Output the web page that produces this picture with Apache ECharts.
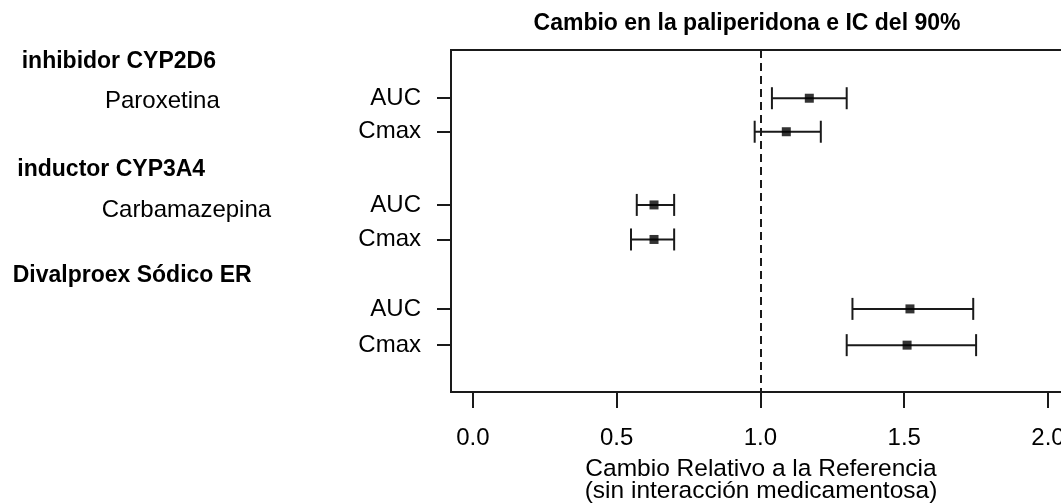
<!DOCTYPE html>
<html>
<head>
<meta charset="utf-8">
<script src="https://cdn.jsdelivr.net/npm/echarts@6/dist/echarts.min.js"></script>
<style>
html,body{margin:0;padding:0;background:#fff;}
#chart{width:1061px;height:504px;}
</style>
</head>
<body>
<div id="chart"></div>
<script>
// ---- data ----
const rowPos    = [14.1, 23.9, 45.3, 55.4, 75.7, 86.3];
const measures  = ['AUC', 'Cmax', 'AUC', 'Cmax', 'AUC', 'Cmax'];
const estimates = [1.17, 1.09, 0.63, 0.63, 1.52, 1.51];
const lower     = [1.04, 0.98, 0.57, 0.55, 1.32, 1.30];
const upper     = [1.30, 1.21, 0.70, 0.70, 1.74, 1.75];
const xTicks    = [0, 0.5, 1, 1.5, 2];
const groupLabels = ['inhibidor CYP2D6', 'inductor CYP3A4', 'Divalproex Sódico ER'];
const groupRows   = [3.3, 35.0, 65.9];
const drugLabels  = ['Paroxetina', 'Carbamazepina'];
const drugRows    = [15.1, 46.8];
const referenceValue = 1;
const titleText = 'Cambio en la paliperidona e IC del 90%';
const xName = 'Cambio Relativo a la Referencia\n(sin interacción medicamentosa)';

const FONT = '"Liberation Sans", Arial, Helvetica, sans-serif';
const INK = '#1a1a1a';

const chart = echarts.init(document.getElementById('chart'), null, {renderer: 'canvas'});

const ciData = rowPos.map((y, i) => [lower[i], upper[i], y]);
const ptData = rowPos.map((y, i) => [estimates[i], y]);

function labelFor(v) {
  let best = 0, d = Infinity;
  rowPos.forEach((p, i) => { const dd = Math.abs(p - v); if (dd < d) { d = dd; best = i; } });
  return measures[best];
}

chart.setOption({
  animation: false,
  backgroundColor: '#fff',
  grid: {
    left: 451, top: 50, width: 620, height: 342,
    show: true, borderColor: INK, borderWidth: 2, backgroundColor: 'transparent',
    outerBoundsMode: 'none', containLabel: false
  },
  xAxis: {
    type: 'value', min: -0.076, max: 2.08, position: 'bottom',
    splitLine: {show: false},
    axisLine: {show: false, onZero: false},
    axisTick: {show: true, inside: false, customValues: xTicks, length: 16, lineStyle: {color: INK, width: 2}},
    axisLabel: {
      show: true, customValues: xTicks, margin: 34,
      formatter: v => Number(v).toFixed(1),
      fontFamily: FONT, fontSize: 24, color: '#000'
    },
    name: xName, nameLocation: 'middle', nameGap: 66,
    nameTextStyle: {fontFamily: FONT, fontSize: 24.5, color: '#000', lineHeight: 22}
  },
  yAxis: {
    type: 'value', min: 0, max: 100, inverse: true, position: 'left',
    splitLine: {show: false},
    axisLine: {show: false, onZero: false},
    axisTick: {show: true, inside: false, customValues: rowPos, length: 14, lineStyle: {color: INK, width: 2}},
    axisLabel: {
      show: true, customValues: rowPos, margin: 30,
      formatter: v => labelFor(v),
      fontFamily: FONT, fontSize: 24, color: '#000', padding: [6, 0, 0, 0]
    }
  },
  series: [
    {
      type: 'custom',
      data: ciData,
      encode: {x: [0, 1], y: 2},
      renderItem: function (params, api) {
        const a = api.coord([api.value(0), api.value(2)]);
        const b = api.coord([api.value(1), api.value(2)]);
        const h = 11;
        const st = {stroke: INK, lineWidth: 2};
        return {
          type: 'group',
          children: [
            {type: 'line', shape: {x1: a[0], y1: a[1], x2: b[0], y2: b[1]}, style: st},
            {type: 'line', shape: {x1: a[0], y1: a[1] - h, x2: a[0], y2: a[1] + h}, style: st},
            {type: 'line', shape: {x1: b[0], y1: b[1] - h, x2: b[0], y2: b[1] + h}, style: st}
          ]
        };
      },
      z: 2
    },
    {
      type: 'scatter',
      data: ptData,
      symbol: 'rect',
      symbolSize: 9,
      itemStyle: {color: '#000'},
      z: 3,
      markLine: {
        silent: true,
        symbol: ['none', 'none'],
        label: {show: false},
        lineStyle: {type: [8, 5], color: INK, width: 2},
        data: [{xAxis: referenceValue}]
      }
    }
  ]
});

const graphics = [];
graphics.push({
  type: 'text', x: 747, y: 24,
  style: {text: titleText, font: 'bold 23px ' + FONT, fill: '#000', align: 'center', verticalAlign: 'middle'}
});
const groupX = [21.7, 17.3, 12.7];
groupLabels.forEach((t, i) => {
  const y = chart.convertToPixel({yAxisIndex: 0}, groupRows[i]);
  graphics.push({type: 'text', x: groupX[i], y: y,
    style: {text: t, font: 'bold 23px ' + FONT, fill: '#000', align: 'left', verticalAlign: 'middle'}});
});
const drugX = [105, 101.7];
drugLabels.forEach((t, i) => {
  const y = chart.convertToPixel({yAxisIndex: 0}, drugRows[i]);
  graphics.push({type: 'text', x: drugX[i], y: y,
    style: {text: t, font: '24px ' + FONT, fill: '#000', align: 'left', verticalAlign: 'middle'}});
});
chart.setOption({graphic: graphics});
</script>
</body>
</html>
